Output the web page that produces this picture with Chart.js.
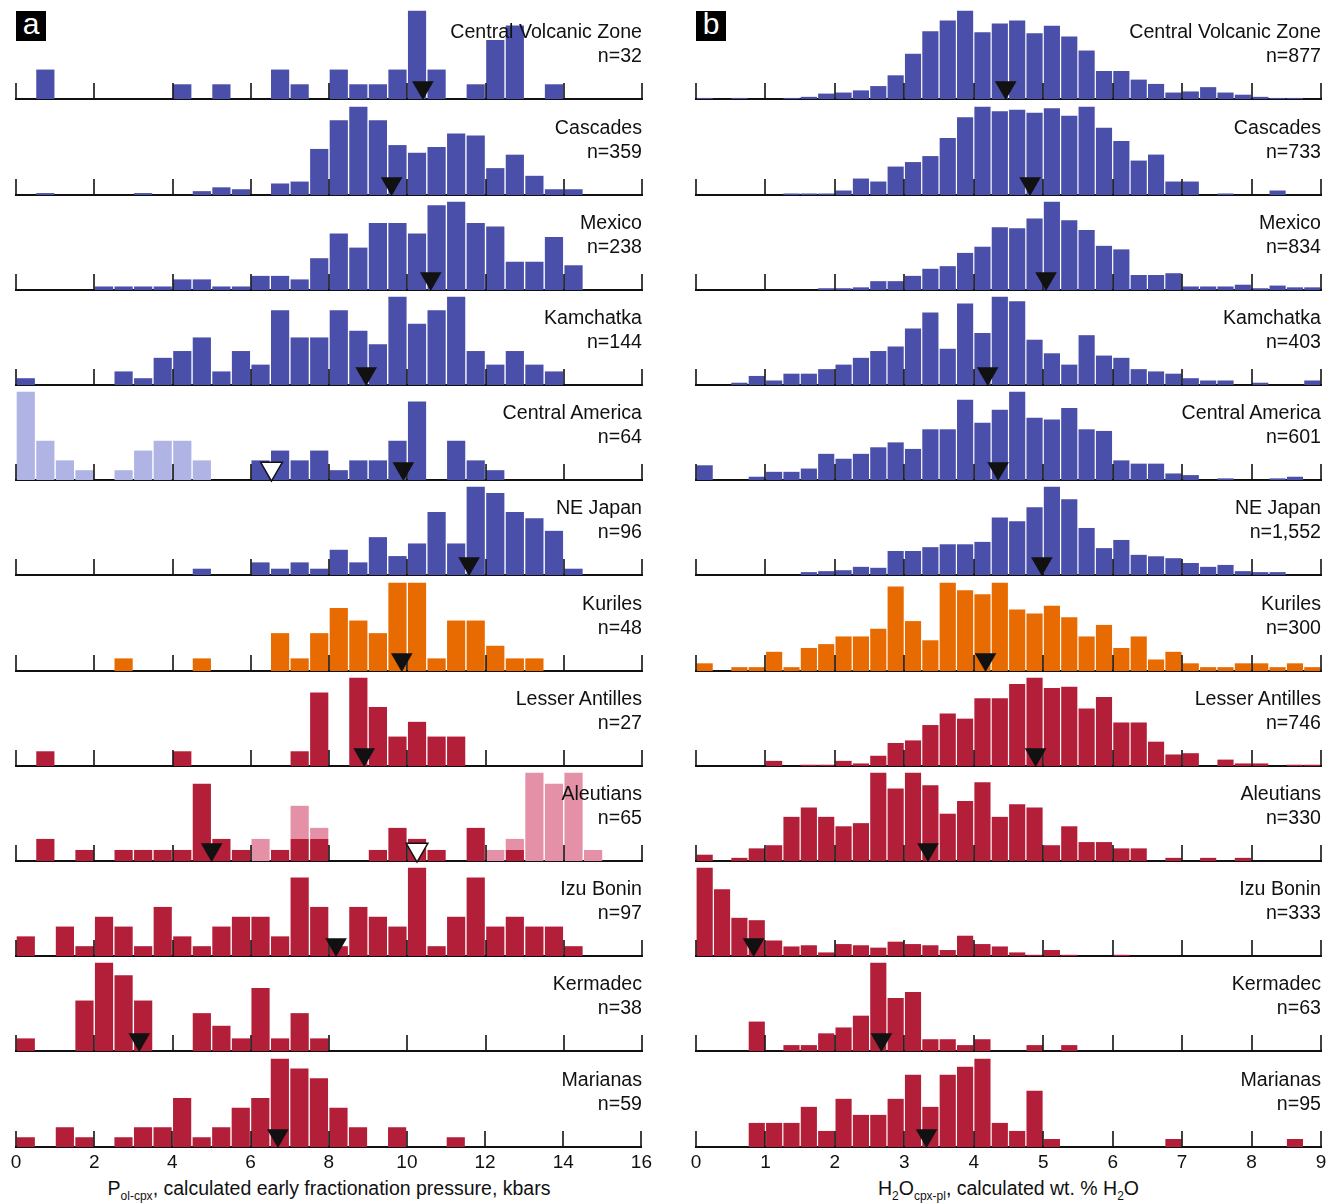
<!DOCTYPE html>
<html>
<head>
<meta charset="utf-8">
<title>Arc fractionation pressure and water histograms</title>
<script src="https://cdn.jsdelivr.net/npm/chart.js@4.4.1/dist/chart.umd.min.js"></script>
<style>
  html, body { margin: 0; padding: 0; background: #fff; }
  #fig { position: relative; width: 1334px; height: 1204px; overflow: hidden;
         font-family: "Liberation Sans", Arial, Helvetica, sans-serif; color: #111; }
  #fig canvas { position: absolute; }
  .lbl { position: absolute; text-align: right; font-size: 19.6px; line-height: 24px; white-space: nowrap; }
  .tag { position: absolute; top: 11px; width: 30px; height: 30px; background: #000; color: #fff;
         font-size: 30px; line-height: 26px; text-align: center; }
  .xtitle { position: absolute; top: 1177px; font-size: 19.5px; line-height: 22px; white-space: nowrap; text-align: center; }
  .xtitle sub { font-size: 12px; line-height: 0; vertical-align: baseline; position: relative; top: 5px; }
</style>
</head>
<body>
<div id="fig">
  <div class="tag" style="left:16px">a</div>
  <div class="tag" style="left:696px">b</div>
  <div class="xtitle" style="left:16px; width:626px">P<sub>ol-cpx</sub>, calculated early fractionation pressure, kbars</div>
  <div class="xtitle" style="left:696px; width:625px">H<sub>2</sub>O<sub>cpx-pl</sub>, calculated wt. % H<sub>2</sub>O</div>
</div>
<script>
// bins and ticks
const pressureBinWidth = 0.5;   // kbar
const waterBinWidth = 0.25;     // wt.%
const pressureTicks = [0, 2, 4, 6, 8, 10, 12, 14, 16];
const waterTicks = [0, 1, 2, 3, 4, 5, 6, 7, 8, 9];

const regions = ['Central Volcanic Zone', 'Cascades', 'Mexico', 'Kamchatka', 'Central America', 'NE Japan',
                 'Kuriles', 'Lesser Antilles', 'Aleutians', 'Izu Bonin', 'Kermadec', 'Marianas'];
const pressureN = ['n=32', 'n=359', 'n=238', 'n=144', 'n=64', 'n=96', 'n=48', 'n=27', 'n=65', 'n=97', 'n=38', 'n=59'];
const waterN = ['n=877', 'n=733', 'n=834', 'n=403', 'n=601', 'n=1,552', 'n=300', 'n=746', 'n=330', 'n=333', 'n=63', 'n=95'];

// panel a: counts per 0.5 kbar bin (0-16)
const pCVZ       = [0,2,0,0,0,0,0,0,1,0,1,0,0,2,1,0,2,1,1,2,6,2,0,1,4,5,0,1,0,0,0,0];
const pCascades  = [0,1,0,0,0,0,1,0,0,2,4,3,0,6,7,24,39,46,39,26,22,25,32,31,14,21,10,3,3,0,0,0];
const pMexico    = [0,0,0,0,1,1,1,1,3,3,1,1,4,4,3,9,16,12,19,19,16,24,25,19,18,8,8,15,7,0,0,0];
const pKamchatka = [1,0,0,0,0,2,1,4,5,7,2,5,3,11,7,7,11,8,6,13,9,11,13,5,3,5,3,2,0,0,0,0];
const pCentAm    = [0,0,0,0,0,0,0,0,0,0,0,0,2,3,2,3,1,2,2,4,8,0,4,2,1,0,0,0,0,0,0,0];
const pCentAmLow = [9,4,2,1,0,1,3,4,4,2,0,0,0,0,0,0,0,0,0,0,0,0,0,0,0,0,0,0,0,0,0,0];
const pNEJapan   = [0,0,0,0,0,0,0,0,0,1,0,0,2,1,2,1,4,2,6,3,5,10,5,14,13,10,9,7,1,0,0,0];
const pKuriles   = [0,0,0,0,0,1,0,0,0,1,0,0,0,3,1,3,5,4,3,7,7,1,4,4,2,1,1,0,0,0,0,0];
const pLesserAnt = [0,1,0,0,0,0,0,0,1,0,0,0,0,0,1,5,0,6,4,2,3,2,2,0,0,0,0,0,0,0,0,0];
const pAleutians = [0,2,0,1,0,1,1,1,1,7,2,1,0,1,2,2,0,0,1,3,2,1,0,3,0,1,0,0,0,0,0,0];
const pAleutAlt  = [0,0,0,0,0,0,0,0,0,0,0,0,2,0,3,1,0,0,0,0,0,0,0,0,1,1,8,7,8,1,0,0];
const pIzuBonin  = [2,0,3,1,4,3,1,5,2,1,3,4,4,2,8,5,1,5,4,3,9,1,4,8,3,4,3,3,1,0,0,0];
const pKermadec  = [1,0,0,4,7,6,4,0,0,3,2,1,5,1,3,1,0,0,0,0,0,0,0,0,0,0,0,0,0,0,0,0];
const pMarianas  = [1,0,2,1,0,1,2,2,5,1,2,4,5,9,8,7,4,2,0,2,0,0,1,0,0,0,0,0,0,0,0,0];

const pressureMeans = [10.4, 9.6, 10.6, 8.95, 9.9, 11.58, 9.86, 8.9, 5.0, 8.18, 3.15, 6.7];
const pressureAltMeans = [null, null, null, null, 6.53, null, null, null, 10.25, null, null, null];

// panel b: counts per 0.25 wt.% bin (0-9)
const wCVZ       = [1,0,1,0,0,1,2,5,6,8,12,22,42,63,73,82,62,70,73,61,68,58,45,26,26,18,14,6,7,11,6,4,2,1,1,0];
const wCascades  = [0,0,0,0,0,1,1,1,3,11,9,19,22,26,38,52,59,56,57,55,58,53,59,45,36,23,27,9,9,0,1,0,0,3,0,0];
const wMexico    = [0,0,0,0,0,0,0,2,2,3,10,10,16,24,27,42,49,71,70,81,100,79,68,50,46,17,17,19,4,4,4,6,2,5,3,3];
const wKamchatka = [0,0,1,4,2,5,5,7,9,12,15,17,25,32,16,36,23,39,37,20,14,9,22,13,12,7,6,5,3,2,2,0,1,0,0,2];
const wCentAm    = [9,0,0,2,5,5,7,16,13,16,20,23,19,31,31,49,35,43,54,38,37,44,31,30,12,10,10,4,3,0,1,0,0,1,2,0];
const wNEJapan   = [0,0,0,0,0,0,6,8,10,17,15,50,50,58,64,64,69,120,112,141,184,158,98,56,73,42,39,35,25,17,21,8,6,6,0,0];
const wKuriles   = [2,0,1,1,5,1,6,7,9,9,11,22,13,8,23,21,20,23,16,15,17,14,9,12,6,9,3,5,2,1,1,2,2,1,2,1];
const wLesserAnt = [0,0,0,0,4,0,1,1,4,2,8,18,20,32,41,37,53,53,64,69,61,62,45,54,34,34,19,9,10,0,5,2,2,0,1,1];
const wAleutians = [2,0,1,4,5,14,17,14,11,12,28,23,28,24,15,19,25,14,18,17,5,11,6,6,4,4,0,1,0,1,0,1,0,0,0,0];
const wIzuBonin  = [74,56,32,30,13,8,9,3,10,9,7,12,10,9,5,17,10,8,3,1,5,1,0,0,1,0,0,0,0,0,0,0,0,0,0,0];
const wKermadec  = [0,0,0,5,0,1,1,3,4,6,15,9,10,2,2,1,2,0,0,1,0,1,0,0,0,0,0,0,0,0,0,0,0,0,0,0];
const wMarianas  = [0,0,0,3,3,3,5,2,6,4,4,6,9,5,9,10,11,3,2,7,1,0,0,0,0,0,0,1,0,0,0,0,0,0,1,0];

const waterMeans = [4.46, 4.81, 5.04, 4.2, 4.35, 4.98, 4.17, 4.89, 3.34, 0.83, 2.67, 3.32];

const pressureCounts = [pCVZ, pCascades, pMexico, pKamchatka, pCentAm, pNEJapan,
                        pKuriles, pLesserAnt, pAleutians, pIzuBonin, pKermadec, pMarianas];
const pressureExtra = [null, null, null, null, pCentAmLow, null, null, null, pAleutAlt, null, null, null];
const waterCounts = [wCVZ, wCascades, wMexico, wKamchatka, wCentAm, wNEJapan,
                     wKuriles, wLesserAnt, wAleutians, wIzuBonin, wKermadec, wMarianas];

// colours
const blue = '#4a4fa9', blueLight = '#b0b4e5', orange = '#e76b00', red = '#b31e38', pink = '#e490a6';
const rowColors = [blue, blue, blue, blue, blue, blue, orange, red, red, red, red, red];
const rowLight = [null, null, null, null, blueLight, null, null, null, pink, null, null, null];

// layout
const FONT = "'Liberation Sans', Arial, Helvetica, sans-serif";
const PANEL_H = 95.2;     // distance between baselines
const FIRST_TOP = 4.3;
const BAR_MAX = 88.5;     // pixel height of the tallest bar in each panel
const TRI_Y = 0.12;       // triangle centre, fraction of panel height
const AXIS_H = 31;        // room for tick labels under the last row

const fig = document.getElementById('fig');

// short upward tick marks sitting on each baseline
const innerTicks = {
    id: 'innerTicks',
    afterDraw(chart) {
        const xs = chart.scales.x;
        const area = chart.chartArea;
        const ctx = chart.ctx;
        ctx.save();
        ctx.strokeStyle = '#111';
        ctx.lineWidth = 1.6;
        xs.ticks.forEach(t => {
            const px = Math.round(xs.getPixelForValue(t.value));
            ctx.beginPath();
            ctx.moveTo(px, area.bottom);
            ctx.lineTo(px, area.bottom - 16);
            ctx.stroke();
        });
        ctx.restore();
    }
};

function triangle(value, fill) {
    return {
        type: 'scatter',
        yAxisID: 'ym',
        order: 0,
        clip: false,
        data: [{ x: value, y: TRI_Y }],
        pointStyle: 'triangle',
        rotation: 180,
        radius: 12.5,
        backgroundColor: fill,
        borderColor: '#111',
        borderWidth: fill === '#fff' ? 1.5 : 0
    };
}

function drawPanel(col, row) {
    const isA = col === 0;
    const counts = isA ? pressureCounts[row] : waterCounts[row];
    const extra = isA ? pressureExtra[row] : null;
    const bw = isA ? pressureBinWidth : waterBinWidth;
    const ticks = isA ? pressureTicks : waterTicks;
    const isBottom = row === regions.length - 1;

    const top = Math.round(FIRST_TOP + row * PANEL_H);
    const w = isA ? 652 : 649;
    const h = isBottom ? 95 + AXIS_H + 3 : 98;
    const left = isA ? 4 : 684;

    const canvas = document.createElement('canvas');
    canvas.width = w;
    canvas.height = h;
    canvas.style.left = left + 'px';
    canvas.style.top = top + 'px';
    canvas.style.width = w + 'px';
    canvas.style.height = h + 'px';
    fig.appendChild(canvas);

    const toPoints = arr => arr.map((v, i) => ({ x: (i + 0.5) * bw, y: v }));
    let peak = 0;
    counts.forEach((v, i) => { peak = Math.max(peak, v + (extra ? extra[i] : 0)); });

    const barStyle = { type: 'bar', order: 1, barPercentage: 0.93, categoryPercentage: 1, inflateAmount: 0 };
    const datasets = [
        triangle(isA ? pressureMeans[row] : waterMeans[row], '#111'),
        Object.assign({ data: toPoints(counts), backgroundColor: rowColors[row] }, barStyle)
    ];
    if (extra) {
        datasets.push(Object.assign({ data: toPoints(extra), backgroundColor: rowLight[row] }, barStyle));
    }
    if (isA && pressureAltMeans[row] !== null) {
        datasets.push(triangle(pressureAltMeans[row], '#fff'));
    }

    new Chart(canvas, {
        type: 'bar',
        data: { datasets: datasets },
        options: {
            responsive: false,
            animation: false,
            events: [],
            layout: { autoPadding: false, padding: { left: 12, right: isA ? 14 : 12, top: 0, bottom: 3 } },
            plugins: { legend: { display: false }, tooltip: { enabled: false } },
            scales: {
                x: {
                    type: 'linear',
                    min: 0,
                    max: ticks[ticks.length - 1],
                    offset: false,
                    stacked: true,
                    z: 1,
                    afterBuildTicks: s => { s.ticks = ticks.map(v => ({ value: v })); },
                    afterFit: s => { s.height = isBottom ? AXIS_H : 0; },
                    grid: { display: false, drawTicks: false, offset: false },
                    border: { display: true, color: '#111', width: 2 },
                    ticks: {
                        display: isBottom,
                        autoSkip: false,
                        maxRotation: 0,
                        padding: 4,
                        color: '#111',
                        font: { family: FONT, size: 19 }
                    }
                },
                y: { display: false, stacked: true, min: 0, max: peak * PANEL_H / BAR_MAX },
                ym: { display: false, min: 0, max: 1 }
            }
        },
        plugins: [innerTicks]
    });

    // region name and sample count
    const lbl = document.createElement('div');
    lbl.className = 'lbl';
    lbl.style.right = (isA ? 1334 - 642 : 1334 - 1321) + 'px';
    lbl.style.top = (top + 95 - 80) + 'px';
    const name = document.createElement('div');
    name.textContent = regions[row];
    const n = document.createElement('div');
    n.textContent = isA ? pressureN[row] : waterN[row];
    lbl.appendChild(name);
    lbl.appendChild(n);
    fig.appendChild(lbl);
}

for (let r = 0; r < regions.length; r++) {
    drawPanel(0, r);
    drawPanel(1, r);
}
</script>
</body>
</html>
